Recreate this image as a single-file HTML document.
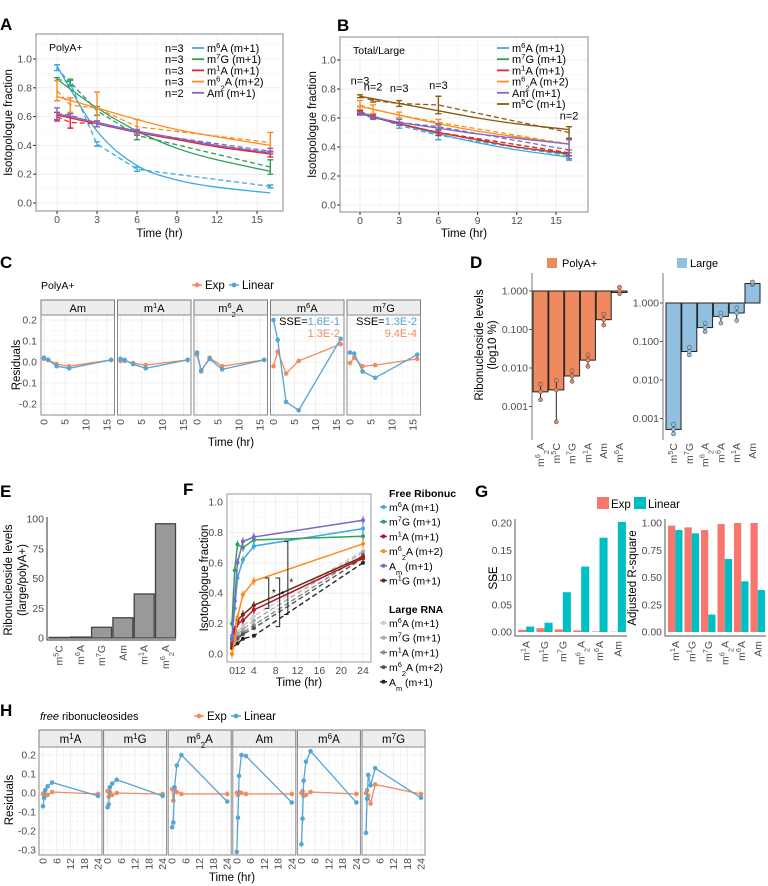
<!DOCTYPE html>
<html><head><meta charset="utf-8"><style>
html,body{margin:0;padding:0;background:#fff;}
svg{display:block;font-family:"Liberation Sans",Arial,sans-serif;}
</style></head><body>
<svg id="fig" width="768" height="886" viewBox="0 0 768 886"></svg>
<script>
// ===== DATA =====
// Panel A (PolyA+)
const tA=[0,1,3,6,16];
const tFit=[0,3,6,9,12,16];
const a_m6A_mean=[0.94,0.83,0.41,0.235,0.115], a_m6A_err=[0.02,0.02,0.015,0.015,0.01], a_m6A_fit=[0.95,0.50,0.26,0.16,0.11,0.07];
const a_m7G_mean=[0.86,0.84,0.64,0.47,0.25], a_m7G_err=[0.01,0.02,0.03,0.03,0.05], a_m7G_fit=[0.86,0.66,0.50,0.38,0.30,0.22];
const a_m1A_mean=[0.60,0.56,0.55,0.49,0.34], a_m1A_err=[0.03,0.04,0.02,0.02,0.02], a_m1A_fit=[0.61,0.55,0.49,0.44,0.39,0.34];
const a_m62A_mean=[0.78,0.68,0.66,0.53,0.42], a_m62A_err=[0.07,0.05,0.11,0.05,0.07], a_m62A_fit=[0.74,0.66,0.58,0.51,0.46,0.40];
const a_Am_mean=[0.62,0.61,0.55,0.49,0.36], a_Am_err=[0.04,0.01,0.02,0.02,0.02], a_Am_fit=[0.62,0.56,0.50,0.45,0.40,0.35];
// Panel B (Total/Large)
const b_m6A_mean=[0.65,0.61,0.55,0.48,0.34], b_m6A_err=[0.03,0.01,0.02,0.03,0.02], b_m6A_fit=[0.64,0.56,0.49,0.43,0.38,0.33];
const b_m7G_mean=[0.64,0.61,0.56,0.50,0.36], b_m7G_err=[0.01,0.01,0.01,0.02,0.02], b_m7G_fit=[0.63,0.56,0.50,0.45,0.40,0.35];
const b_m1A_mean=[0.64,0.61,0.56,0.50,0.36], b_m1A_err=[0.01,0.01,0.01,0.02,0.02], b_m1A_fit=[0.63,0.56,0.50,0.45,0.40,0.355];
const b_m62A_mean=[0.69,0.66,0.62,0.57,0.42], b_m62A_err=[0.03,0.03,0.02,0.02,0.04], b_m62A_fit=[0.68,0.62,0.56,0.51,0.47,0.42];
const b_Am_mean=[0.63,0.60,0.57,0.54,0.38], b_Am_err=[0.01,0.01,0.02,0.02,0.07], b_Am_fit=[0.63,0.57,0.53,0.49,0.46,0.42];
const b_m5C_mean=[0.75,0.72,0.70,0.69,0.50], b_m5C_err=[0.01,0.01,0.02,0.06,0.04], b_m5C_fit=[0.75,0.70,0.65,0.60,0.56,0.52];
const b_nLabels=["n=3","n=2","n=3","n=3","n=2"], b_nT=[0,1,3,6,16], b_nV=[0.83,0.79,0.78,0.80,0.59];
// Panel C residuals
const tC=[0,1,3,6,16];
const cFacets=["Am","m^1A","m^6_2A","m^6A","m^7G"];
const c_exp=[[0.015,0.01,-0.01,-0.02,0.01],[0.005,0.005,-0.005,-0.015,0.01],[0.035,-0.045,0.02,-0.02,0.01],[-0.02,0.05,-0.055,0.005,0.085],[-0.005,0.02,-0.02,-0.015,0.015]];
const c_lin=[[0.02,0.01,-0.02,-0.03,0.01],[0.015,0.01,-0.01,-0.03,0.01],[0.045,-0.04,0.015,-0.035,0.01],[0.2,0.105,-0.19,-0.23,0.11],[0.045,0.04,-0.045,-0.075,0.035]];
// Panel D
const dPolyCats=["m^6_2A","m^5C","m^7G","m^1A","Am","m^6A"];
const dPolyVal=[0.0024,0.0027,0.0062,0.016,0.18,1.0], dPolyLo=[0.0015,0.0004,0.0045,0.011,0.13,0.85], dPolyHi=[0.0038,0.0048,0.0085,0.022,0.25,1.25];
const dLargeCats=["m^5C","m^7G","m^6_2A","m^6A","m^1A","Am"];
const dLargeVal=[0.00052,0.055,0.23,0.45,0.55,3.2], dLargeLo=[0.0004,0.045,0.18,0.3,0.35,3.0], dLargeHi=[0.0007,0.07,0.3,0.55,0.75,3.5];
// Panel E
const eCats=["m^5C","m^6A","m^7G","Am","m^1A","m^6_2A"];
const eVals=[0.5,0.8,9,17,37,96];
// Panel F
const tFree=[0,0.5,1,2,4,24];
const f_m6A=[0.12,0.30,0.50,0.62,0.71,0.825];
const f_m7G=[0.20,0.55,0.72,0.70,0.75,0.775];
const f_m1A=[0.05,0.16,0.20,0.22,0.29,0.63];
const f_m62A=[0.00,0.10,0.24,0.39,0.48,0.725];
const f_Am=[0.10,0.35,0.60,0.74,0.77,0.88];
const f_m1G=[0.10,0.15,0.22,0.26,0.32,0.64];
const tLarge=[0,1,2,4,24];
const l_m6A=[0.12,0.15,0.18,0.25,0.68];
const l_m7G=[0.10,0.13,0.16,0.22,0.67];
const l_m1A=[0.08,0.11,0.14,0.19,0.65];
const l_m62A=[0.07,0.10,0.13,0.17,0.63];
const l_Am=[0.04,0.07,0.10,0.12,0.60];
// Panel G
const gCats=["m^1A","m^1G","m^7G","m^6_2A","m^6A","Am"];
const gSseExp=[0.004,0.007,0.005,0.003,0.001,0.0005];
const gSseLin=[0.010,0.017,0.073,0.120,0.173,0.202];
const gRsqExp=[0.975,0.96,0.935,0.99,1.0,1.0];
const gRsqLin=[0.935,0.905,0.16,0.67,0.465,0.385];
// Panel H residuals
const tH=[0,0.5,1,2,4,24];
const hFacets=["m^1A","m^1G","m^6_2A","Am","m^6A","m^7G"];
const h_lin=[[-0.07,-0.025,0.015,0.035,0.055,-0.015],[-0.075,-0.06,0.03,0.05,0.07,-0.015],[-0.18,-0.155,0.03,0.145,0.20,-0.045],[-0.31,-0.13,0.09,0.20,0.195,-0.05],[-0.27,-0.135,0.065,0.165,0.22,-0.05],[-0.21,-0.03,0.095,0.04,0.13,-0.025]];
const h_exp=[[-0.005,0.0,-0.01,-0.01,0.005,-0.005],[0.01,-0.02,0.005,-0.01,0.0,-0.005],[0.02,-0.04,0.02,0.005,-0.005,-0.005],[0.0,-0.01,0.005,0.0,-0.005,-0.005],[0.0,0.01,-0.015,-0.01,0.005,-0.005],[0.0,0.015,-0.015,-0.055,0.045,-0.005]];

// ===== HELPERS =====
const NS='http://www.w3.org/2000/svg';
const svg=document.getElementById('fig');
function el(tag,a,p){const e=document.createElementNS(NS,tag);for(const k in a)e.setAttribute(k,a[k]);(p||svg).appendChild(e);return e;}
function lin(d0,d1,r0,r1){return v=>r0+(v-d0)*(r1-r0)/(d1-d0);}
function rich(x,y,str,o){o=o||{};const fs=o.fs||10;
 const t=el('text',{x:x,y:y,'font-size':fs,fill:o.fill||'#000','text-anchor':o.anchor||'start','font-weight':o.fw||'normal','font-style':o.fi||'normal'});
 if(o.rot)t.setAttribute('transform','rotate('+o.rot+' '+x+' '+y+')');
 let i=0;while(i<str.length){const c=str[i];
  if((c==='^'||c==='_')&&i+1<str.length){const s=el('tspan',{'font-size':fs*0.7,'baseline-shift':c==='^'?'super':'sub'},t);s.textContent=str[i+1];i+=2;}
  else{let j=i;while(j<str.length&&str[j]!=='^'&&str[j]!=='_')j++;const s=el('tspan',{},t);s.textContent=str.slice(i,j);i=j;}}
 
 
 return t;}
function pts(xs,ys,X,Y){return xs.map((v,i)=>X(v).toFixed(1)+','+Y(ys[i]).toFixed(1)).join(' ');}
function smooth(xs,ys,X,Y){const P=xs.map((v,i)=>[X(v),Y(ys[i])]);let d='M'+P[0][0]+','+P[0][1];
 for(let i=0;i<P.length-1;i++){const p0=P[Math.max(0,i-1)],p1=P[i],p2=P[i+1],p3=P[Math.min(P.length-1,i+2)];
  const c1=[p1[0]+(p2[0]-p0[0])/6,p1[1]+(p2[1]-p0[1])/6],c2=[p2[0]-(p3[0]-p1[0])/6,p2[1]-(p3[1]-p1[1])/6];
  d+=`C${c1[0].toFixed(1)},${c1[1].toFixed(1)} ${c2[0].toFixed(1)},${c2[1].toFixed(1)} ${p2[0].toFixed(1)},${p2[1].toFixed(1)}`;}
 return d;}
function grid(x0,y0,x1,y1,xs,ys,xm,ym){
 const bg=el('rect',{x:x0,y:y0,width:x1-x0,height:y1-y0,fill:'#fff'});
 
 
 (xm||[]).forEach(x=>el('line',{x1:x,x2:x,y1:y0,y2:y1,stroke:'#F4F4F4','stroke-width':0.6}));
 (ym||[]).forEach(y=>el('line',{x1:x0,x2:x1,y1:y,y2:y,stroke:'#F4F4F4','stroke-width':0.6}));
 xs.forEach(x=>el('line',{x1:x,x2:x,y1:y0,y2:y1,stroke:'#EBEBEB','stroke-width':0.8}));
 ys.forEach(y=>el('line',{x1:x0,x2:x1,y1:y,y2:y,stroke:'#EBEBEB','stroke-width':0.8}));}
function border(x0,y0,x1,y1,c){const b=el('rect',{x:x0,y:y0,width:x1-x0,height:y1-y0,fill:'none',stroke:c||'#8a8a8a','stroke-width':1});
 
 }
function letter(x,y,s){rich(x,y,s,{fs:17,fw:'bold',name:'panel-letter-'+s});}

// ===== PANEL A & B =====
function decayPanel(cfg){
 const X=lin(0,15,cfg.x0t,cfg.x15t),Y=lin(0,1,cfg.y0v,cfg.y1v);
 const ticks=[0,3,6,9,12,15],yt=[0,0.2,0.4,0.6,0.8,1.0];
 grid(cfg.bx0,cfg.by0,cfg.bx1,cfg.by1,ticks.map(X),yt.map(Y),[1.5,4.5,7.5,10.5,13.5].map(X),[0.1,0.3,0.5,0.7,0.9,1.1].map(Y).filter(v=>v>cfg.by0));
 cfg.series.forEach(s=>{
  const g=el('g',{});
  
  
  el('path',{d:smooth(tFit,s.fit,X,Y),fill:'none',stroke:s.col,'stroke-width':1.3},g);
  el('polyline',{points:pts(tA,s.mean,X,Y),fill:'none',stroke:s.col,'stroke-width':1.3,'stroke-dasharray':'5,3'},g);
  tA.forEach((t,i)=>{const x=X(t),ya=Y(s.mean[i]-s.err[i]),yb=Y(s.mean[i]+s.err[i]);
   const eb=el('path',{d:`M${x},${ya}V${yb}M${x-3},${ya}h6M${x-3},${yb}h6`,stroke:s.col,'stroke-width':1.4,fill:'none'},g);
   
   });
 });
 border(cfg.bx0,cfg.by0,cfg.bx1,cfg.by1);
 yt.forEach(v=>{rich(cfg.bx0-4,Y(v)+3.5,v.toFixed(1),{fs:10.5,fill:'#4D4D4D',anchor:'end',name:'y-tick-label'});el('line',{x1:cfg.bx0-3,x2:cfg.bx0,y1:Y(v),y2:Y(v),stroke:'#333'});});
 ticks.forEach(v=>{rich(X(v),cfg.by1+12,String(v),{fs:10.5,fill:'#4D4D4D',anchor:'middle',name:'x-tick-label'});el('line',{x1:X(v),x2:X(v),y1:cfg.by1,y2:cfg.by1+3,stroke:'#333'});});
 rich((cfg.bx0+cfg.bx1)/2,237,'Time (hr)',{fs:11.5,anchor:'middle',name:'x-axis-title'});
 rich(cfg.ytx,(cfg.by0+cfg.by1)/2,'Isotopologue fraction',{fs:11.5,anchor:'middle',rot:-90,name:'y-axis-title'});
 rich(cfg.bx0+13,cfg.by0+17,cfg.title,{fs:10.5,name:'panel-subtitle'});
 cfg.series.forEach((s,i)=>{const y=cfg.legY+i*11.2;
  if(s.n) rich(cfg.legNx,y+4,s.n,{fs:11,name:'legend-n'});
  const l=el('line',{x1:cfg.legX,x2:cfg.legX+12,y1:y,y2:y,stroke:s.col,'stroke-width':1.8});
  
  
  rich(cfg.legX+15,y+4,s.label,{fs:11,name:'legend-entry'});});
 return {X,Y};
}
const colM6A='#3FA9DC',colM7G='#2E9E5A',colM1A='#E3242B',colM62A='#FF8C1A',colAm='#7B68C8',colM5C='#8C5A14';
letter(0,30,'A');
decayPanel({bx0:36,by0:34,bx1:283,by1:211,x0t:57,x15t:257,y0v:203,y1v:59,ytx:12,title:'PolyA+',legX:192,legNx:165,legY:48,
 series:[{key:'m6A',col:colM6A,mean:a_m6A_mean,err:a_m6A_err,fit:a_m6A_fit,label:'m^6A (m+1)',n:'n=3'},
 {key:'m7G',col:colM7G,mean:a_m7G_mean,err:a_m7G_err,fit:a_m7G_fit,label:'m^7G (m+1)',n:'n=3'},
 {key:'m1A',col:colM1A,mean:a_m1A_mean,err:a_m1A_err,fit:a_m1A_fit,label:'m^1A (m+1)',n:'n=3'},
 {key:'m62A',col:colM62A,mean:a_m62A_mean,err:a_m62A_err,fit:a_m62A_fit,label:'m^6_2A (m+2)',n:'n=3'},
 {key:'Am',col:colAm,mean:a_Am_mean,err:a_Am_err,fit:a_Am_fit,label:'Am (m+1)',n:'n=2'}]});
letter(337,31,'B');
const pB=decayPanel({bx0:340,by0:37,bx1:588,by1:212,x0t:360,x15t:556,y0v:205,y1v:60,ytx:316,title:'Total/Large',legX:497,legNx:0,legY:48,
 series:[{key:'m6A',col:colM6A,mean:b_m6A_mean,err:b_m6A_err,fit:b_m6A_fit,label:'m^6A (m+1)'},
 {key:'m7G',col:colM7G,mean:b_m7G_mean,err:b_m7G_err,fit:b_m7G_fit,label:'m^7G (m+1)'},
 {key:'m1A',col:colM1A,mean:b_m1A_mean,err:b_m1A_err,fit:b_m1A_fit,label:'m^1A (m+1)'},
 {key:'m62A',col:colM62A,mean:b_m62A_mean,err:b_m62A_err,fit:b_m62A_fit,label:'m^6_2A (m+2)'},
 {key:'Am',col:colAm,mean:b_Am_mean,err:b_Am_err,fit:b_Am_fit,label:'Am (m+1)'},
 {key:'m5C',col:colM5C,mean:b_m5C_mean,err:b_m5C_err,fit:b_m5C_fit,label:'m^5C (m+1)'}]});
b_nLabels.forEach((s,i)=>rich(pB.X(b_nT[i]),pB.Y(b_nV[i]),s,{fs:11,anchor:'middle',name:'n-label'}));

// ===== PANEL C =====
const colExp='#F28B5E',colLin='#55A5D5';
letter(0,268,'C');
rich(41,289,'PolyA+',{fs:10.5,name:'panel-subtitle'});
function expLinLegend(x,y){
 const a=el('path',{d:`M${x-5},${y}h10`,stroke:colExp,'stroke-width':1.5});
 el('circle',{cx:x,cy:y,r:2.4,fill:colExp});
 rich(x+8,y+4,'Exp',{fs:11.5,name:'legend-exp'});
 const b=el('path',{d:`M${x+32},${y}h10`,stroke:colLin,'stroke-width':1.5});
 el('circle',{cx:x+37,cy:y,r:2.4,fill:colLin});
 rich(x+45,y+4,'Linear',{fs:11.5,name:'legend-linear'});}
expLinLegend(197,285);
const YC=lin(0,0.2,362,320);
cFacets.forEach((f,i)=>{
 const x0=41+i*76.5,x1=x0+73.5,X=lin(0,15,x0+3,x0+66);
 grid(x0,315,x1,415,[0,5,10,15].map(X),[-0.2,-0.1,0,0.1,0.2].map(YC),[2.5,7.5,12.5].map(X),[-0.15,-0.05,0.05,0.15].map(YC));
 const st=el('rect',{x:x0,y:300,width:73.5,height:15,fill:'#EDEDED',stroke:'#7a7a7a'});
 
 
 rich((x0+x1)/2,312,f,{fs:11,anchor:'middle',name:'facet-label'});
 [[c_exp[i],colExp],[c_lin[i],colLin]].forEach(([d,c])=>{
  const pl=el('polyline',{points:pts(tC,d,X,YC),fill:'none',stroke:c,'stroke-width':1.3});
  
  
  tC.forEach((t,j)=>el('circle',{cx:X(t),cy:YC(d[j]),r:2.3,fill:c}));});
 border(x0,315,x1,415);
 [0,5,10,15].forEach(v=>{rich(X(v)+3.5,419,String(v),{fs:10.5,fill:'#4D4D4D',anchor:'end',rot:-90,name:'x-tick-label'});});
});
[0.2,0.1,0,-0.1,-0.2].forEach(v=>rich(37,YC(v)+3.5,v.toFixed(1),{fs:10.5,fill:'#4D4D4D',anchor:'end',name:'y-tick-label'}));
rich(20,365,'Residuals',{fs:11.5,anchor:'middle',rot:-90,name:'y-axis-title'});
rich(231,446,'Time (hr)',{fs:11.5,anchor:'middle',name:'x-axis-title'});
function sseText(xR,y1,v1,v2){
 const t=el('text',{x:xR,y:y1,'font-size':11,'text-anchor':'end'});
 
 
 const a=el('tspan',{fill:'#000'},t);a.textContent='SSE=';
 const b=el('tspan',{fill:colLin},t);b.textContent=v1;
 rich(xR,y1+12,v2,{fs:11,fill:colExp,anchor:'end',name:'sse-exp-label'});}
sseText(340,325,'1.6E-1','1.3E-2');
sseText(417,325,'1.3E-2','9.4E-4');

// ===== PANEL D =====
letter(470,268,'D');
const kp=el('rect',{x:547,y:258,width:10,height:10,fill:'#EE8A5E'});
rich(562,267,'PolyA+',{fs:11,name:'legend-polya'});
const kl=el('rect',{x:677,y:258,width:10,height:10,fill:'#92C0E0'});
rich(690,267,'Large',{fs:11,name:'legend-large'});
function logPanel(ax,y1000,cats,vals,lo,hi,fill,bx){
 const Y=v=>y1000-Math.log10(v)*38.5;
 el('line',{x1:ax,x2:ax,y1:273,y2:440,stroke:'#777'});
 [1,0.1,0.01,0.001].forEach(v=>{rich(ax-4,Y(v)+3.5,v.toFixed(3),{fs:10.5,fill:'#4D4D4D',anchor:'end',name:'y-tick-label'});el('line',{x1:ax-3,x2:ax,y1:Y(v),y2:Y(v),stroke:'#555'});});
 cats.forEach((c,i)=>{const x=bx+i*15.8;
  const yv=Y(vals[i]),y1=Y(1);
  const r=el('rect',{x:x,y:Math.min(yv,y1),width:15,height:Math.max(1.5,Math.abs(yv-y1)),fill:fill,stroke:'#222','stroke-width':1});
  
  
  el('line',{x1:x+7.5,x2:x+7.5,y1:Y(lo[i]),y2:Y(hi[i]),stroke:'#222','stroke-width':1});
  [lo[i],vals[i],hi[i]].forEach(v=>el('circle',{cx:x+7.5,cy:Y(v),r:2,fill:fill,stroke:'#555','stroke-width':0.6}));
  rich(x+11,443,c,{fs:10.5,fill:'#4D4D4D',anchor:'end',rot:-90,name:'x-tick-label'});});}
logPanel(532,291,dPolyCats,dPolyVal,dPolyLo,dPolyHi,'#EE8A5E',533);
logPanel(663,303,dLargeCats,dLargeVal,dLargeLo,dLargeHi,'#92C0E0',666);
rich(483,345,'Ribonucleoside levels',{fs:11.5,anchor:'middle',rot:-90,name:'y-axis-title'});
rich(496,345,'(log10 %)',{fs:11.5,anchor:'middle',rot:-90,name:'y-axis-title-2'});

// ===== PANEL E =====
letter(0,497,'E');
const YE=lin(0,100,638,519);
el('path',{d:'M47,517V640H176',stroke:'#333',fill:'none'});
[0,25,50,75,100].forEach(v=>{rich(44,YE(v)+3.5,String(v),{fs:10.5,fill:'#4D4D4D',anchor:'end',name:'y-tick-label'});});
eCats.forEach((c,i)=>{const x=49+i*21.3;
 const r=el('rect',{x:x,y:YE(eVals[i]),width:20,height:YE(0)-YE(eVals[i]),fill:'#999',stroke:'#444','stroke-width':1.3});
 
 
 rich(x+13.5,645,c,{fs:10.5,fill:'#4D4D4D',anchor:'end',rot:-90,name:'x-tick-label'});});
rich(12,580,'Ribonucleoside levels',{fs:11.5,anchor:'middle',rot:-90,name:'y-axis-title'});
rich(26,580,'(large/polyA+)',{fs:11.5,anchor:'middle',rot:-90,name:'y-axis-title-2'});

// ===== PANEL F =====
letter(183,495,'F');
const XF=lin(0,24,232,363),YF=lin(0,1,654,502);
grid(227,494,371,662,[0,4,8,12,16,20,24].map(XF),[0,0.2,0.4,0.6,0.8,1].map(YF),[2,6,10,14,18,22].map(XF),[0.1,0.3,0.5,0.7,0.9].map(YF));
const fLarge=[[l_m6A,'#CCCCCC'],[l_m7G,'#AAAAAA'],[l_m1A,'#888888'],[l_m62A,'#555555'],[l_Am,'#222222']];
fLarge.forEach(([d,c])=>{const pl=el('polyline',{points:pts(tLarge,d,XF,YF),fill:'none',stroke:c,'stroke-width':1.4,'stroke-dasharray':'5,3'});
 
 
 tLarge.forEach((t,j)=>el('circle',{cx:XF(t),cy:YF(d[j]),r:2,fill:c}));});
const fFree=[[f_m1G,'#6B2E12'],[f_m1A,'#B2182B'],[f_m62A,'#FF8C1A'],[f_m6A,'#3FA9DC'],[f_m7G,'#2EA35E'],[f_Am,'#7B68C8']];
fFree.forEach(([d,c])=>{const pl=el('polyline',{points:pts(tFree,d,XF,YF),fill:'none',stroke:c,'stroke-width':1.5});
 
 
 tFree.forEach((t,j)=>{el('circle',{cx:XF(t),cy:YF(d[j]),r:2,fill:c});el('line',{x1:XF(t),x2:XF(t),y1:YF(d[j])-4,y2:YF(d[j])+4,stroke:c,'stroke-width':1.2});});});
const br=el('path',{d:`M${XF(6)},${YF(0.5)}h4V${YF(0.3)}h-4M${XF(8)},${YF(0.5)}h4V${YF(0.18)}h-4M${XF(9.5)},${YF(0.74)}h4V${YF(0.26)}h-4`,stroke:'#222',fill:'none','stroke-width':1});


rich(XF(7.3),YF(0.38),'*',{fs:10,name:'sig-star'});rich(XF(8.9),YF(0.37),'*',{fs:10,name:'sig-star'});rich(XF(10.5),YF(0.45),'*',{fs:10,name:'sig-star'});
border(227,494,371,662,'#9a9a9a');
[0,0.2,0.4,0.6,0.8,1].forEach(v=>rich(223,YF(v)+3.5,v.toFixed(1),{fs:10.5,fill:'#4D4D4D',anchor:'end',name:'y-tick-label'}));
[0,1,2,4,8,12,16,20,24].forEach(v=>rich(XF(v),674,String(v),{fs:10.5,fill:'#4D4D4D',anchor:'middle',name:'x-tick-label'}));
rich(299,686,'Time (hr)',{fs:11.5,anchor:'middle',name:'x-axis-title'});
rich(208,578,'Isotopologue fraction',{fs:11.5,anchor:'middle',rot:-90,name:'y-axis-title'});
rich(389,497,'Free Ribonuc',{fs:10.5,fw:'bold',name:'legend-title-free'});
const fLegFree=[['m^6A (m+1)','#3FA9DC'],['m^7G (m+1)','#2EA35E'],['m^1A (m+1)','#B2182B'],['m^6_2A (m+2)','#FF8C1A'],['A_m (m+1)','#7B68C8'],['m^1G (m+1)','#6B2E12']];
fLegFree.forEach(([s,c],i)=>{const y=507+i*14.7;el('line',{x1:380,x2:387,y1:y,y2:y,stroke:c,'stroke-width':1.5});el('circle',{cx:383.5,cy:y,r:2,fill:c});rich(389,y+4,s,{fs:10.5,name:'legend-entry'});});
rich(389,613,'Large RNA',{fs:10.5,fw:'bold',name:'legend-title-large'});
const fLegLarge=[['m^6A (m+1)','#CCCCCC'],['m^7G (m+1)','#AAAAAA'],['m^1A (m+1)','#888888'],['m^6_2A (m+2)','#555555'],['A_m (m+1)','#222222']];
fLegLarge.forEach(([s,c],i)=>{const y=623+i*14.7;el('line',{x1:380,x2:387,y1:y,y2:y,stroke:c,'stroke-width':1.5});el('circle',{cx:383.5,cy:y,r:2,fill:c});rich(389,y+4,s,{fs:10.5,name:'legend-entry'});});

// ===== PANEL G =====
letter(475,497,'G');
const gExpCol='#F8766D',gLinCol='#00BFC4';
const gk1=el('rect',{x:597,y:497,width:12,height:12,fill:gExpCol});
rich(611,508,'Exp',{fs:11.5,name:'legend-exp'});
const gk2=el('rect',{x:634,y:497,width:12,height:12,fill:gLinCol});
rich(648,508,'Linear',{fs:11.5,name:'legend-linear'});
function gPanel(ax,right,maxV,ticks,fmt,expV,linV,title,tx){
 const Y=lin(0,maxV,632,523);
 el('path',{d:`M${ax},519V636H${right}`,stroke:'#555',fill:'none'});
 ticks.forEach(v=>{rich(ax-3,Y(v)+3.5,v.toFixed(2),{fs:10.5,fill:'#4D4D4D',anchor:'end',name:'y-tick-label'});});
 const bw=(right-ax-2)/gCats.length;
 gCats.forEach((c,i)=>{const x=ax+2+i*bw+bw*0.06;const w=bw*0.44;
  const r1=el('rect',{x:x,y:Y(expV[i]),width:w,height:Y(0)-Y(expV[i]),fill:gExpCol});
  
  
  const r2=el('rect',{x:x+w,y:Y(linV[i]),width:w,height:Y(0)-Y(linV[i]),fill:gLinCol});
  
  
  rich(x+w+3.5,641,c,{fs:10.5,fill:'#4D4D4D',anchor:'end',rot:-90,name:'x-tick-label'});});
 rich(tx,578,title,{fs:11.5,anchor:'middle',rot:-90,name:'y-axis-title'});}
gPanel(515,627,0.2,[0,0.05,0.1,0.15,0.2],2,gSseExp,gSseLin,'SSE',497);
gPanel(665,766,1,[0,0.25,0.5,0.75,1],2,gRsqExp,gRsqLin,'Adjusted R-square',636);

// ===== PANEL H =====
letter(0,716,'H');
const ht=el('text',{x:40,y:720,'font-size':11});
const ht1=el('tspan',{'font-style':'italic'},ht);ht1.textContent='free';const ht2=el('tspan',{},ht);ht2.textContent=' ribonucleosides';
expLinLegend(199,716);
const YH=lin(0,0.2,793,755);
hFacets.forEach((f,i)=>{
 const x0=39+i*64.6,x1=x0+63,X=lin(0,24,x0+4,x0+59);
 grid(x0,747,x1,855,[0,6,12,18,24].map(X),[-0.3,-0.2,-0.1,0,0.1,0.2].map(YH),[3,9,15,21].map(X),[-0.25,-0.15,-0.05,0.05,0.15,0.25].map(YH).filter(v=>v>747));
 const st=el('rect',{x:x0,y:730,width:63,height:17,fill:'#EDEDED',stroke:'#7a7a7a'});
 
 
 rich((x0+x1)/2,743,f,{fs:11.5,anchor:'middle',name:'facet-label'});
 [[h_exp[i],colExp],[h_lin[i],colLin]].forEach(([d,c])=>{
  const pl=el('polyline',{points:pts(tH,d,X,YH),fill:'none',stroke:c,'stroke-width':1.3});
  
  
  tH.forEach((t,j)=>el('circle',{cx:X(t),cy:YH(d[j]),r:2.3,fill:c}));});
 border(x0,747,x1,855);
 [0,6,12,18,24].forEach(v=>rich(X(v)+3.5,858,String(v),{fs:10.5,fill:'#4D4D4D',anchor:'end',rot:-90,name:'x-tick-label'}));
});
[0.2,0.1,0,-0.1,-0.2,-0.3].forEach(v=>rich(36,YH(v)+3.5,v.toFixed(1),{fs:10.5,fill:'#4D4D4D',anchor:'end',name:'y-tick-label'}));
rich(13,800,'Residuals',{fs:11.5,anchor:'middle',rot:-90,name:'y-axis-title'});
rich(232,881,'Time (hr)',{fs:11.5,anchor:'middle',name:'x-axis-title'});
</script>
</body></html>
